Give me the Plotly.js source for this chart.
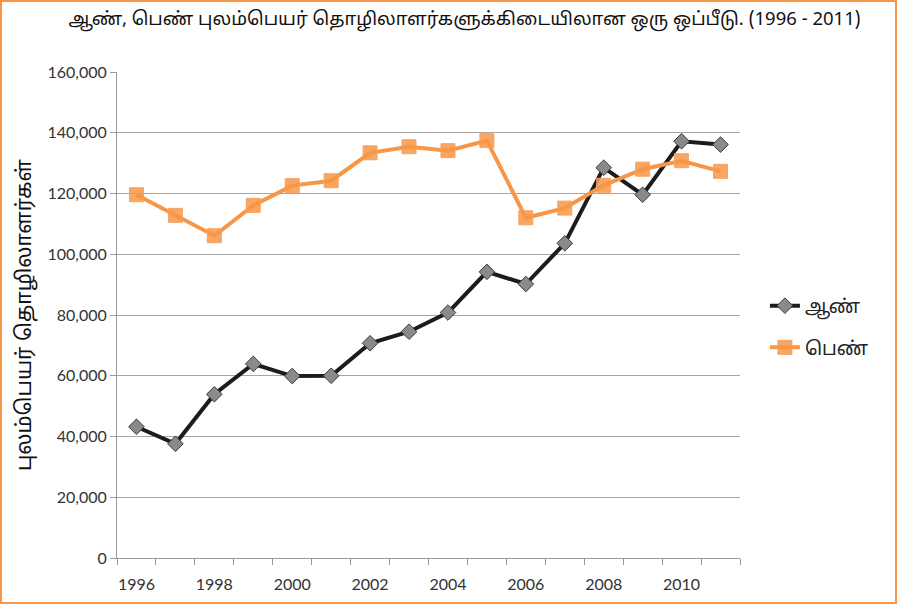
<!DOCTYPE html>
<html>
<head>
<meta charset="utf-8">
<script src="https://cdn.plot.ly/plotly-3.0.1.min.js"></script>
<style>
  html, body { margin: 0; padding: 0; background: #fff; }
  #chart { width: 893px; height: 600px; border: 2px solid #F79646; }
</style>
</head>
<body>
<div id="chart"></div>
<script>
// years on the category axis
const years = [1996, 1997, 1998, 1999, 2000, 2001, 2002, 2003,
               2004, 2005, 2006, 2007, 2008, 2009, 2010, 2011];
const yearLabels = [1996, 1998, 2000, 2002, 2004, 2006, 2008, 2010];

// migrant workers, male
const male = [43200, 37600, 53900, 63900, 59900, 60000, 70700, 74500,
              80800, 94200, 90200, 103600, 128500, 119600, 137200, 136100];
// migrant workers, female
const female = [119600, 112800, 106100, 116100, 122600, 124200, 133400, 135400,
                134100, 137400, 112000, 115200, 122700, 128000, 130800, 127300];

const tamilFont = "Latha, 'Noto Sans Tamil', 'Noto Serif Tamil', 'Lohit Tamil', 'Liberation Serif', serif";
const numFont = "Lato, 'Open Sans', sans-serif";

const maleTrace = {
  x: years,
  y: male,
  type: "scatter",
  mode: "lines+markers",
  name: "ஆண்",
  legendgroup: "m",
  line: { color: "#1c1c1c", width: 4 },
  marker: { symbol: "diamond", size: 12, color: "#8a8a8a", line: { color: "#3a3a3a", width: 1 } },
};

const femaleTrace = {
  x: years,
  y: female,
  type: "scatter",
  mode: "lines+markers",
  name: "பெண்",
  legendgroup: "f",
  line: { color: "#F79646", width: 4 },
  marker: { symbol: "square", size: 14, color: "rgba(247,150,70,0.85)", line: { color: "#F8A362", width: 1 } },
};

const layout = {
  width: 893,
  height: 600,
  margin: { l: 115, r: 155, t: 70, b: 44 },
  paper_bgcolor: "#fff",
  plot_bgcolor: "#fff",
  title: {
    text: "ஆண், பெண் புலம்பெயர் தொழிலாளர்களுக்கிடையிலான ஒரு ஒப்பீடு. (1996 - 2011)",
    font: { family: tamilFont, size: 18.5, color: "#111" },
    x: 0.518,
    xanchor: "center",
    y: 0.973,
    yanchor: "middle",
  },
  xaxis: {
    range: [1995.5, 2011.5],
    tickmode: "array",
    tickvals: yearLabels,
    ticktext: yearLabels.map(String),
    ticks: "",
    ticklabelstandoff: 12,
    showgrid: false,
    zeroline: false,
    showline: true,
    linecolor: "#9a9a9a",
    linewidth: 1,
    tickfont: { family: numFont, size: 16, color: "#333" },
    minor: { tickmode: "linear", tick0: 1995.5, dtick: 1, ticks: "outside", ticklen: 6, tickcolor: "#9a9a9a", showgrid: false },
  },
  yaxis: {
    range: [0, 160000],
    dtick: 20000,
    tickformat: ",d",
    ticks: "outside",
    ticklen: 6,
    tickcolor: "#9a9a9a",
    showgrid: true,
    gridcolor: "#a6a6a6",
    gridwidth: 1,
    zeroline: false,
    showline: true,
    linecolor: "#9a9a9a",
    linewidth: 1,
    tickfont: { family: numFont, size: 16, color: "#333" },
    title: {
      text: "புலம்பெயர் தொழிலாளர்கள்",
      font: { family: tamilFont, size: 21, color: "#111" },
      standoff: 10,
    },
  },
  legend: {
    x: 1.04,
    y: 0.558,
    xanchor: "left",
    yanchor: "top",
    traceorder: "grouped",
    font: { family: tamilFont, size: 19, color: "#222" },
    tracegroupgap: 14,
  },
  showlegend: true,
};

Plotly.newPlot("chart", [maleTrace, femaleTrace], layout, { displayModeBar: false });
</script>
</body>
</html>
